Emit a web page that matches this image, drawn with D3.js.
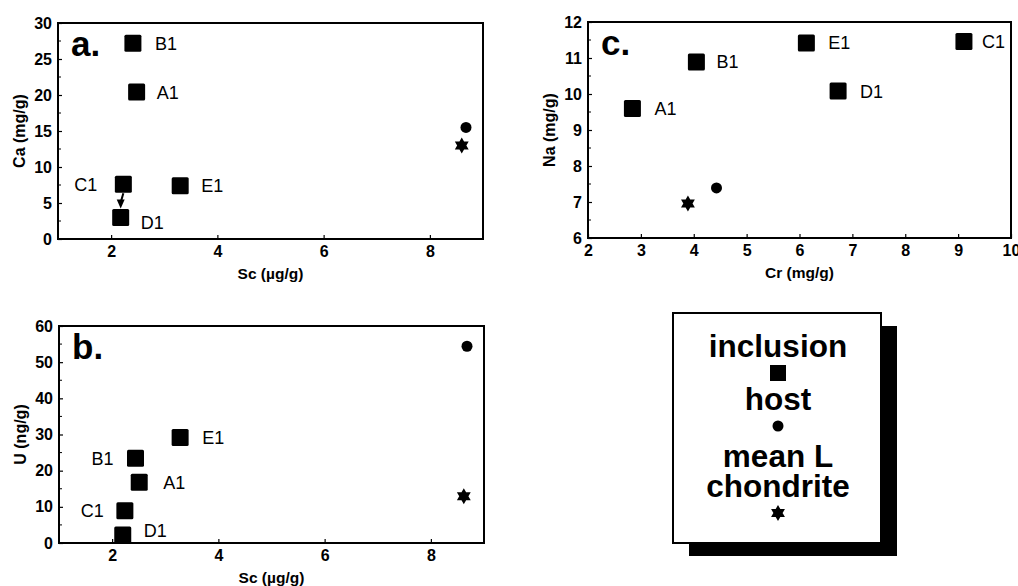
<!DOCTYPE html>
<html>
<head>
<meta charset="utf-8">
<script src="https://cdn.jsdelivr.net/npm/d3@7"></script>
<style>
  html, body { margin: 0; padding: 0; background: #fff; }
  svg { display: block; }
  text { font-family: "Liberation Sans", Arial, Helvetica, sans-serif; fill: #000; }
</style>
</head>
<body>
<svg id="chart" width="1018" height="586"></svg>
<script>
// ---------------- DATA ----------------
const samples = ["A1", "B1", "C1", "D1", "E1"];

// panel a: Sc (µg/g) vs Ca (mg/g)
const scA = [2.48, 2.41, 2.23, 2.18, 3.30];
const caA = [20.4, 27.2, 7.6, 3.0, 7.4];
const hostA = [8.68, 15.5];
const chondA = [8.60, 13.0];

// panel b: Sc (µg/g) vs U (ng/g)
const scB = [2.51, 2.44, 2.24, 2.20, 3.28];
const uB = [16.8, 23.4, 8.9, 2.2, 29.2];
const hostB = [8.68, 54.4];
const chondB = [8.62, 12.9];

// panel c: Cr (mg/g) vs Na (mg/g)
const crC = [2.84, 4.05, 9.11, 6.73, 6.13];
const naC = [9.6, 10.89, 11.46, 10.08, 11.42];
const hostC = [4.43, 7.39];
const chondC = [3.89, 6.96];

// tick labels
const ticksScX = [2, 4, 6, 8];
const ticksCaY = [0, 5, 10, 15, 20, 25, 30];
const ticksUY = [0, 10, 20, 30, 40, 50, 60];
const ticksCrX = [2, 3, 4, 5, 6, 7, 8, 9, 10];
const ticksNaY = [6, 7, 8, 9, 10, 11, 12];

const legendLabels = [["inclusion"], ["host"], ["mean L", "chondrite"]];

// ---------------- DRAWING ----------------
const svg = d3.select("#chart");
const FONT = '"Liberation Sans", Arial, Helvetica, sans-serif';

const hexagram = {
  draw(ctx, size) {
    const r = Math.sqrt(size);
    const tri = (start) => {
      for (let i = 0; i < 3; i++) {
        const a = (start + i * 120) * Math.PI / 180;
        const x = r * Math.cos(a), y = r * Math.sin(a);
        if (i === 0) ctx.moveTo(x, y); else ctx.lineTo(x, y);
      }
      ctx.closePath();
    };
    tri(-90);
    tri(90);
  }
};

function panel(cfg) {
  const g = svg.append("g");
  const x = d3.scaleLinear().domain(cfg.xDomain).range([cfg.left, cfg.right]);
  const y = d3.scaleLinear().domain(cfg.yDomain).range([cfg.bottom, cfg.top]);

  // axes
  const xa = g.append("g").attr("transform", `translate(0,${cfg.bottom})`)
    .call(d3.axisBottom(x).tickValues(cfg.xTicks).tickSize(-4).tickPadding(7).tickFormat(d3.format("d")));
  const ya = g.append("g").attr("transform", `translate(${cfg.left},0)`)
    .call(d3.axisLeft(y).tickValues(cfg.yTicks).tickSize(-4).tickPadding(6).tickFormat(d3.format("d")));
  [xa, ya].forEach(a => {
    a.select(".domain").remove();
    a.selectAll("line").attr("stroke", "#000").attr("stroke-width", 1.2);
    a.selectAll("text").attr("font-family", FONT).attr("font-weight", "bold")
      .attr("font-size", 16).attr("fill", "#000");
  });
  // minor ticks on y axis
  const yMinor = [];
  for (let i = 0; i < cfg.yTicks.length - 1; i++) yMinor.push((cfg.yTicks[i] + cfg.yTicks[i + 1]) / 2);
  g.selectAll(".ym").data(yMinor).join("line")
    .attr("x1", cfg.left).attr("x2", cfg.left + 3)
    .attr("y1", d => y(d)).attr("y2", d => y(d))
    .attr("stroke", "#000").attr("stroke-width", 1);

  // frame
  g.append("rect")
    .attr("x", cfg.left).attr("y", cfg.top)
    .attr("width", cfg.right - cfg.left).attr("height", cfg.bottom - cfg.top)
    .attr("fill", "none").attr("stroke", "#000").attr("stroke-width", 2);

  // axis titles
  g.append("text")
    .attr("x", (cfg.left + cfg.right) / 2).attr("y", cfg.bottom + 40)
    .attr("text-anchor", "middle").attr("font-weight", "bold").attr("font-size", 15.5)
    .text(cfg.xTitle);
  g.append("text")
    .attr("transform", `translate(${cfg.left - 39},${(cfg.top + cfg.bottom) / 2}) rotate(-90)`)
    .attr("dy", "0.35em")
    .attr("text-anchor", "middle").attr("font-weight", "bold").attr("font-size", 16)
    .text(cfg.yTitle);

  // panel letter
  g.append("text")
    .attr("x", cfg.left + 13).attr("y", cfg.top + 33)
    .attr("font-weight", "bold").attr("font-size", 35)
    .text(cfg.letter);

  // arrow (panel a)
  if (cfg.arrow) {
    const [from, to] = cfg.arrow;
    const x1 = x(cfg.xs[from]), y1 = y(cfg.ys[from]) + 9;
    const x2 = x(cfg.xs[to]), y2 = y(cfg.ys[to]) - 9;
    g.append("line").attr("x1", x1).attr("y1", y1).attr("x2", x2).attr("y2", y2 - 6)
      .attr("stroke", "#000").attr("stroke-width", 2);
    g.append("path")
      .attr("d", `M${x2 - 4},${y2 - 9} L${x2 + 4},${y2 - 9} L${x2},${y2} Z`)
      .attr("fill", "#000");
  }

  // inclusion squares
  const S = 17;
  g.selectAll(".sq").data(samples).join("rect")
    .attr("x", (d, i) => x(cfg.xs[i]) - S / 2)
    .attr("y", (d, i) => y(cfg.ys[i]) - S / 2)
    .attr("width", S).attr("height", S).attr("rx", 1.5)
    .attr("fill", "#000");

  // labels
  g.selectAll(".lb").data(samples).join("text")
    .attr("x", (d, i) => x(cfg.xs[i]) + cfg.place[d][0])
    .attr("y", (d, i) => y(cfg.ys[i]) + cfg.place[d][1])
    .attr("dy", "0.36em")
    .attr("text-anchor", d => cfg.place[d][0] < 0 ? "end" : "start")
    .attr("font-size", 18)
    .text(d => d);

  // host circle
  g.append("circle").attr("cx", x(cfg.host[0])).attr("cy", y(cfg.host[1])).attr("r", 5.5).attr("fill", "#000");
  // chondrite star
  g.append("path")
    .attr("transform", `translate(${x(cfg.chond[0])},${y(cfg.chond[1])})`)
    .attr("d", d3.symbol().type(hexagram).size(64)())
    .attr("fill", "#000");
}

panel({
  left: 58, right: 483, top: 23, bottom: 239,
  xDomain: [1, 9], yDomain: [0, 30], xTicks: ticksScX, yTicks: ticksCaY,
  xs: scA, ys: caA, host: hostA, chond: chondA,
  xTitle: "Sc (µg/g)", yTitle: "Ca (mg/g)", letter: "a.",
  arrow: [2, 3],
  place: { A1: [20, 0], B1: [22, 0], C1: [-26, 0], D1: [20, 5], E1: [21, 0] }
});

panel({
  left: 59, right: 484, top: 326, bottom: 543,
  xDomain: [1, 9], yDomain: [0, 60], xTicks: ticksScX, yTicks: ticksUY,
  xs: scB, ys: uB, host: hostB, chond: chondB,
  xTitle: "Sc (µg/g)", yTitle: "U (ng/g)", letter: "b.",
  place: { A1: [24, 0], B1: [-22, 0], C1: [-21, 0], D1: [21, -5], E1: [22, 0] }
});

panel({
  left: 588, right: 1011, top: 22, bottom: 238,
  xDomain: [2, 10], yDomain: [6, 12], xTicks: ticksCrX, yTicks: ticksNaY,
  xs: crC, ys: naC, host: hostC, chond: chondC,
  xTitle: "Cr (mg/g)", yTitle: "Na (mg/g)", letter: "c.",
  place: { A1: [22, 0], B1: [20, 0], C1: [18, 0], D1: [22, 0], E1: [22, 0] }
});

// ---------------- LEGEND ----------------
const L = { x: 673, y: 313, w: 208, h: 230, dx: 16, dy: 13 };
const lg = svg.append("g");
lg.append("rect").attr("x", L.x + L.dx).attr("y", L.y + L.dy).attr("width", L.w).attr("height", L.h).attr("fill", "#000");
lg.append("rect").attr("x", L.x).attr("y", L.y).attr("width", L.w).attr("height", L.h)
  .attr("fill", "#fff").attr("stroke", "#000").attr("stroke-width", 2);
const cx = L.x + L.w / 2 + 1;
const lineY = [357, 410, 467];
const symY = [373, 426, 513];
legendLabels.forEach((lines, i) => {
  const t = lg.append("text").attr("x", cx).attr("y", lineY[i])
    .attr("text-anchor", "middle").attr("font-weight", "bold").attr("font-size", 31.5);
  lines.forEach((s, j) => {
    t.append("tspan").attr("x", cx).attr("dy", j === 0 ? 0 : 30).text(s);
  });
});
lg.append("rect").attr("x", cx - 8).attr("y", symY[0] - 8).attr("width", 16).attr("height", 16).attr("fill", "#000");
lg.append("circle").attr("cx", cx).attr("cy", symY[1]).attr("r", 5.5).attr("fill", "#000");
lg.append("path").attr("transform", `translate(${cx},${symY[2]})`)
  .attr("d", d3.symbol().type(hexagram).size(64)()).attr("fill", "#000");
</script>
</body>
</html>
